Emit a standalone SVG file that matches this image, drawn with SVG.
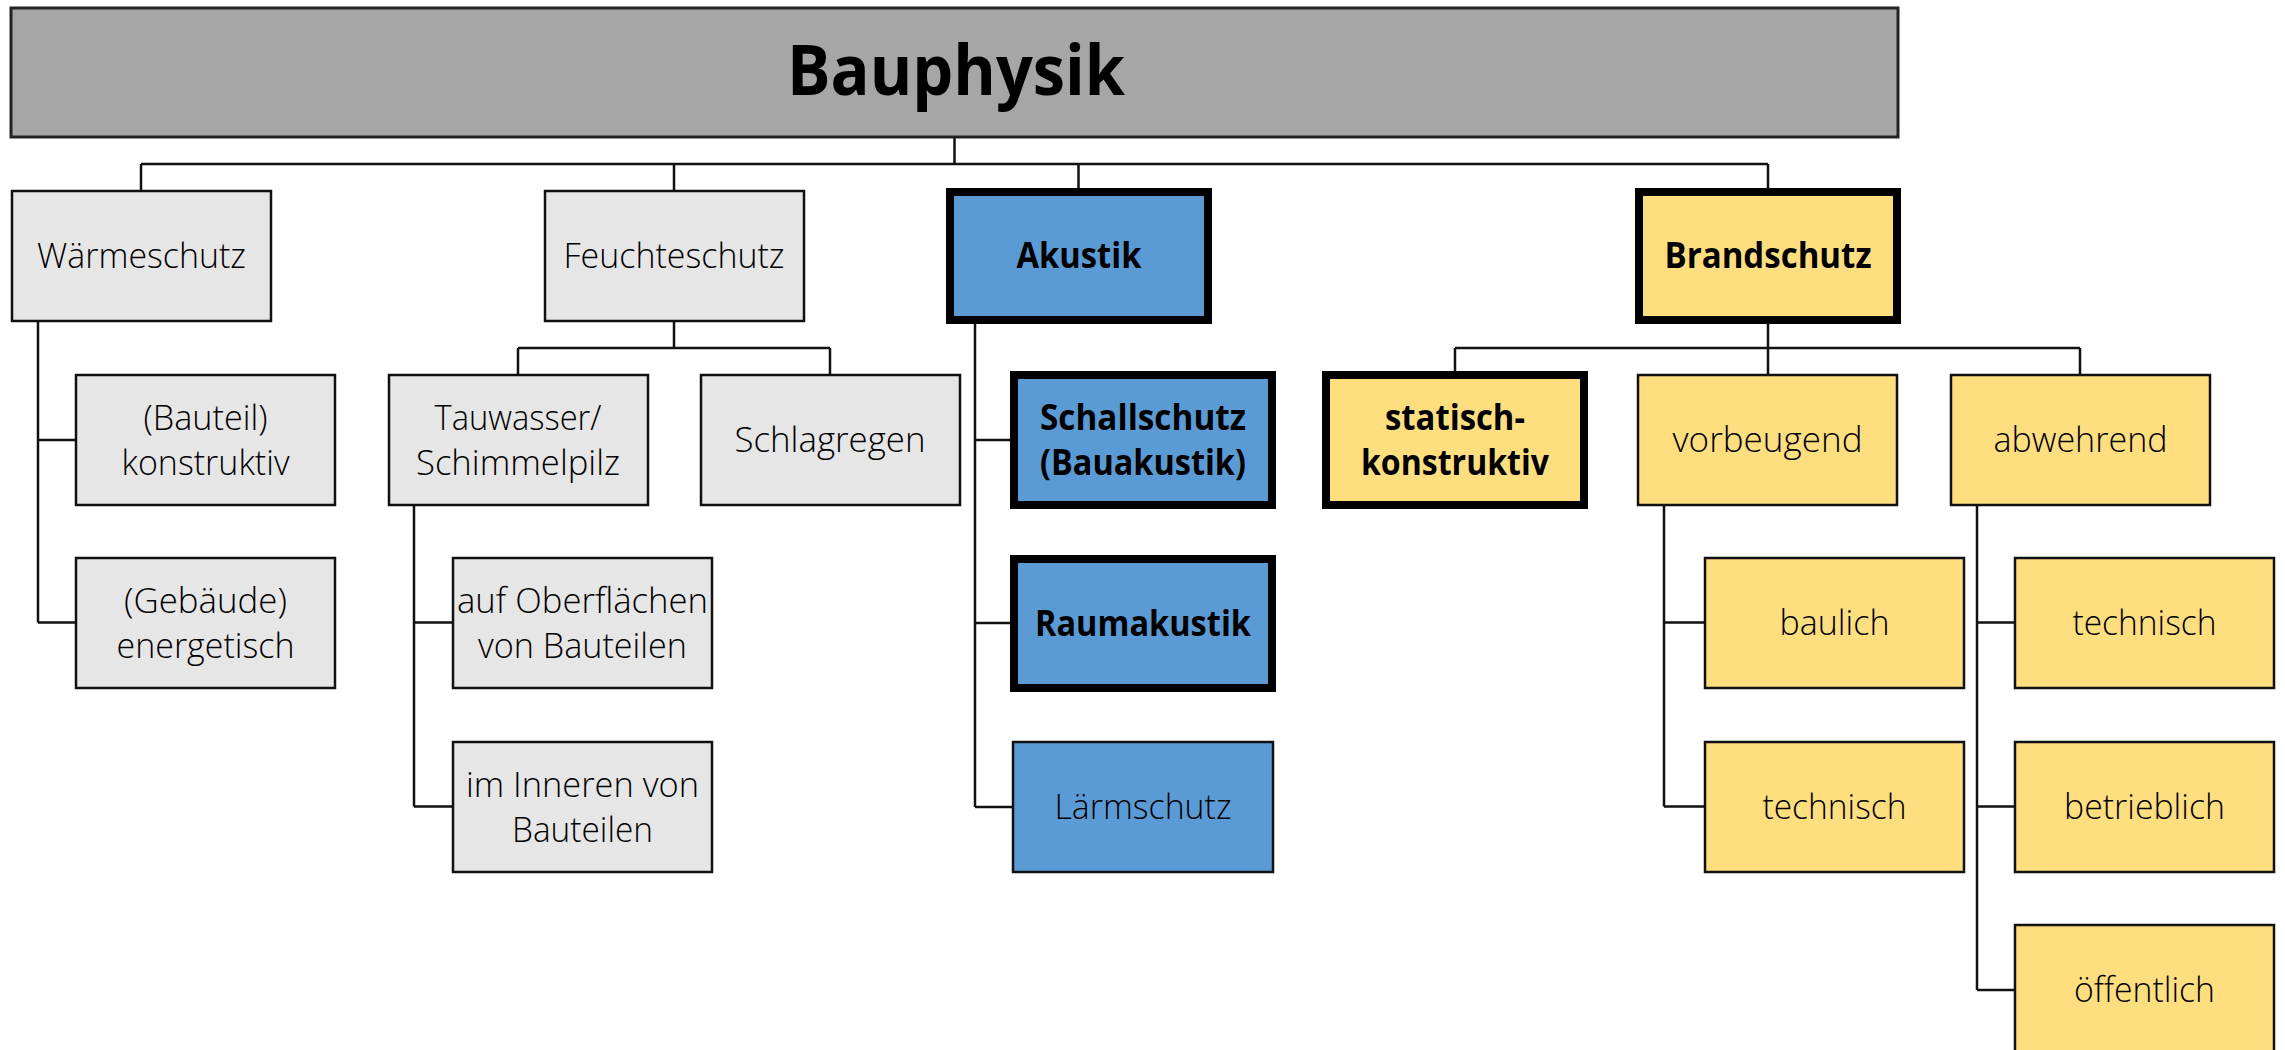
<svg xmlns="http://www.w3.org/2000/svg" width="2285" height="1050" viewBox="0 0 2285 1050">
<style>
.g{fill:#e7e6e6;stroke:#111;stroke-width:2.5}
.b{fill:#5b9bd5;stroke:#111;stroke-width:2.5}
.bt{fill:#5b9bd5;stroke:#000;stroke-width:8}
.y{fill:#ffde80;stroke:#111;stroke-width:2.5}
.yt{fill:#ffde80;stroke:#000;stroke-width:8}
text{font-family:"Open Sans","Segoe UI","Noto Sans",sans-serif;font-size:35.5px;fill:#000;text-anchor:middle}
.l{font-weight:300}
.bd{font-weight:700}
#connectors path{fill:none;stroke:#111;stroke-width:2.5}
</style>
<g id="connectors">
<path d="M954.5 137V164M141 164H1768M141 164V191M674 164V191M1078.5 164V188M1768 164V188"/>
<path d="M38 321V622.5M38 440H76M38 622.5H76"/>
<path d="M674 321V348M518 348H830M518 348V375M830 348V375"/>
<path d="M414 505V806.5M414 622.5H453M414 806.5H453"/>
<path d="M975 324V807M975 440H1010M975 623H1010M975 807H1013"/>
<path d="M1768 324V375M1455 348H2080M1455 348V371M2080 348V375"/>
<path d="M1664 505V806.5M1664 622.5H1705M1664 806.5H1705"/>
<path d="M1977 505V990M1977 622.5H2015M1977 806.5H2015M1977 990H2015"/>
</g>
<g id="bauphysik">
<rect x="11" y="8" width="1887" height="129" fill="#a6a6a6" stroke="#222" stroke-width="3"/>
<text class="bd" x="956" y="95" style="font-size:69px" textLength="338" lengthAdjust="spacingAndGlyphs">Bauphysik</text>
</g>
<g id="waermeschutz"><rect class="g" x="12" y="191" width="259" height="130"/><text class="l" x="141.5" y="268" textLength="209" lengthAdjust="spacingAndGlyphs">Wärmeschutz</text></g>
<g id="feuchteschutz"><rect class="g" x="545" y="191" width="259" height="130"/><text class="l" x="674" y="268" textLength="221" lengthAdjust="spacingAndGlyphs">Feuchteschutz</text></g>
<g id="akustik"><rect class="bt" x="950" y="192" width="258" height="128"/><text class="bd" x="1079" y="268" textLength="125" lengthAdjust="spacingAndGlyphs">Akustik</text></g>
<g id="brandschutz"><rect class="yt" x="1639" y="192" width="258" height="128"/><text class="bd" x="1768" y="268" textLength="207" lengthAdjust="spacingAndGlyphs">Brandschutz</text></g>

<g id="bauteil"><rect class="g" x="76" y="375" width="259" height="130"/><text class="l" x="205.5" y="430" textLength="124" lengthAdjust="spacingAndGlyphs">(Bauteil)</text><text class="l" x="205.5" y="475" textLength="168" lengthAdjust="spacingAndGlyphs">konstruktiv</text></g>
<g id="gebaeude"><rect class="g" x="76" y="558" width="259" height="130"/><text class="l" x="205.5" y="613" textLength="163" lengthAdjust="spacingAndGlyphs">(Gebäude)</text><text class="l" x="205.5" y="658" textLength="178" lengthAdjust="spacingAndGlyphs">energetisch</text></g>
<g id="tauwasser"><rect class="g" x="389" y="375" width="259" height="130"/><text class="l" x="518" y="430" textLength="167" lengthAdjust="spacingAndGlyphs">Tauwasser/</text><text class="l" x="518" y="475" textLength="204" lengthAdjust="spacingAndGlyphs">Schimmelpilz</text></g>
<g id="schlagregen"><rect class="g" x="701" y="375" width="259" height="130"/><text class="l" x="830" y="452" textLength="191" lengthAdjust="spacingAndGlyphs">Schlagregen</text></g>
<g id="oberflaechen"><rect class="g" x="453" y="558" width="259" height="130"/><text class="l" x="582.5" y="613" textLength="251" lengthAdjust="spacingAndGlyphs">auf Oberflächen</text><text class="l" x="582.5" y="658" textLength="209" lengthAdjust="spacingAndGlyphs">von Bauteilen</text></g>
<g id="inneren"><rect class="g" x="453" y="742" width="259" height="130"/><text class="l" x="582.5" y="797" textLength="233" lengthAdjust="spacingAndGlyphs">im Inneren von</text><text class="l" x="582.5" y="842" textLength="141" lengthAdjust="spacingAndGlyphs">Bauteilen</text></g>

<g id="schallschutz"><rect class="bt" x="1014" y="375" width="258" height="130"/><text class="bd" x="1143" y="430" textLength="206" lengthAdjust="spacingAndGlyphs">Schallschutz</text><text class="bd" x="1143" y="475" textLength="206" lengthAdjust="spacingAndGlyphs">(Bauakustik)</text></g>
<g id="raumakustik"><rect class="bt" x="1014" y="559" width="258" height="129"/><text class="bd" x="1143" y="636" textLength="216" lengthAdjust="spacingAndGlyphs">Raumakustik</text></g>
<g id="laermschutz"><rect class="b" x="1013" y="742" width="260" height="130"/><text class="l" x="1143" y="819" textLength="177" lengthAdjust="spacingAndGlyphs">Lärmschutz</text></g>

<g id="statisch"><rect class="yt" x="1326" y="375" width="258" height="130"/><text class="bd" x="1455" y="430" textLength="140" lengthAdjust="spacingAndGlyphs">statisch-</text><text class="bd" x="1455" y="475" textLength="188" lengthAdjust="spacingAndGlyphs">konstruktiv</text></g>
<g id="vorbeugend"><rect class="y" x="1638" y="375" width="259" height="130"/><text class="l" x="1767.5" y="452" textLength="190" lengthAdjust="spacingAndGlyphs">vorbeugend</text></g>
<g id="abwehrend"><rect class="y" x="1951" y="375" width="259" height="130"/><text class="l" x="2080.5" y="452" textLength="174" lengthAdjust="spacingAndGlyphs">abwehrend</text></g>
<g id="baulich"><rect class="y" x="1705" y="558" width="259" height="130"/><text class="l" x="1834.5" y="635" textLength="110" lengthAdjust="spacingAndGlyphs">baulich</text></g>
<g id="technisch-v"><rect class="y" x="1705" y="742" width="259" height="130"/><text class="l" x="1834.5" y="819" textLength="144" lengthAdjust="spacingAndGlyphs">technisch</text></g>
<g id="technisch-a"><rect class="y" x="2015" y="558" width="259" height="130"/><text class="l" x="2144.5" y="635" textLength="144" lengthAdjust="spacingAndGlyphs">technisch</text></g>
<g id="betrieblich"><rect class="y" x="2015" y="742" width="259" height="130"/><text class="l" x="2144.5" y="819" textLength="161" lengthAdjust="spacingAndGlyphs">betrieblich</text></g>
<g id="oeffentlich"><rect class="y" x="2015" y="925" width="259" height="130"/><text class="l" x="2144.5" y="1002" textLength="141" lengthAdjust="spacingAndGlyphs">öffentlich</text></g>
</svg>
